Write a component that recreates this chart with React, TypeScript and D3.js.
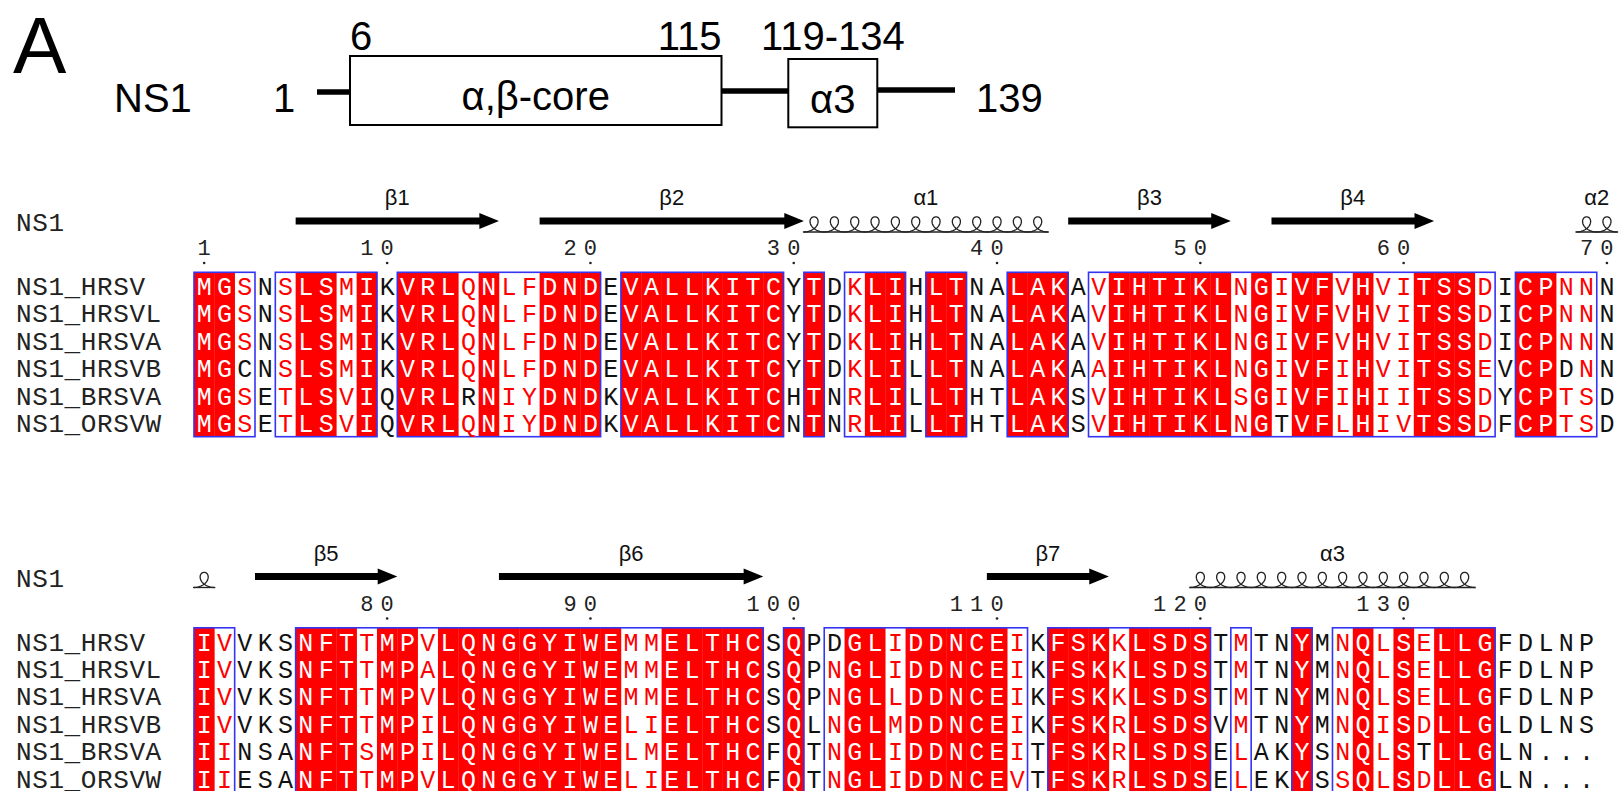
import * as d3 from "d3";

// --- top schematic -------------------------------------------------------
const domainNames = ["α,β-core", "α3"];
const domainStart = [6, 119];
const domainEnd = [115, 134];
const proteinLength = 139;
const domainTopLabels = ["6", "115", "119-134"];

// --- alignment data ------------------------------------------------------
const seqNames = ["NS1_HRSV", "NS1_HRSVL", "NS1_HRSVA", "NS1_HRSVB", "NS1_BRSVA", "NS1_ORSVW"];
const seqs = [
  "MGSNSLSMIKVRLQNLFDNDEVALLKITCYTDKLIHLTNALAKAVIHTIKLNGIVFVHVITSSDICPNNN" +
    "IVVKSNFTTMPVLQNGGYIWEMMELTHCSQPDGLIDDNCEIKFSKKLSDSTMTNYMNQLSELLGFDLNP",
  "MGSNSLSMIKVRLQNLFDNDEVALLKITCYTDKLIHLTNALAKAVIHTIKLNGIVFVHVITSSDICPNNN" +
    "IVVKSNFTTMPALQNGGYIWEMMELTHCSQPNGLIDDNCEIKFSKKLSDSTMTNYMNQLSELLGFDLNP",
  "MGSNSLSMIKVRLQNLFDNDEVALLKITCYTDKLIHLTNALAKAVIHTIKLNGIVFVHVITSSDICPNNN" +
    "IVVKSNFTTMPVLQNGGYIWEMMELTHCSQPNGLLDDNCEIKFSKKLSDSTMTNYMNQLSELLGFDLNP",
  "MGCNSLSMIKVRLQNLFDNDEVALLKITCYTDKLILLTNALAKAAIHTIKLNGIVFIHVITSSEVCPDNN" +
    "IVVKSNFTTMPILQNGGYIWELIELTHCSQLNGLMDDNCEIKFSKRLSDSVMTNYMNQISDLLGLDLNS",
  "MGSETLSVIQVRLRNIYDNDKVALLKITCHTNRLILLTHTLAKSVIHTIKLSGIVFIHIITSSDYCPTSD" +
    "IINSANFTSMPILQNGGYIWELMELTHCFQTNGLIDDNCEITFSKRLSDSELAKYSNQLSTLLGLN...",
  "MGSETLSVIQVRLQNIYDNDKVALLKITCNTNRLILLTHTLAKSVIHTIKLNGTVFLHIVTSSDFCPTSD" +
    "IIESANFTTMPVLQNGGYIWELIELTHCFQTNGLIDDNCEVTFSKRLSDSELEKYSSQLSDLLGLN...",
];

// fully conserved columns (red box) and similar columns (red letters)
const strictCols = [
  1, 2, 6, 7, 9, 11, 12, 13, 15, 18, 19, 20, 22, 23, 24, 25, 26, 27, 28, 29, 31, 34, 35, 37, 38,
  41, 42, 43, 46, 47, 48, 49, 50, 51, 53, 55, 56, 58, 61, 62, 63, 66, 67,
  71, 76, 77, 78, 80, 81, 83, 84, 85, 86, 87, 88, 89, 90, 91, 94, 95, 96, 97, 98, 100, 103, 104,
  106, 107, 108, 109, 110, 113, 114, 115, 117, 118, 119, 120, 125, 128, 130, 132, 133, 134,
];
const similarCols = [
  3, 5, 8, 14, 16, 17, 33, 45, 52, 54, 57, 59, 60, 64, 68, 69,
  72, 79, 82, 92, 93, 102, 105, 111, 116, 122, 127, 129, 131,
];
// [position, row] of residues left black inside similar columns
const blackInSimilar = [[3, 3], [14, 4], [54, 5], [68, 3], [102, 0], [131, 4]];

const blockStarts = [1, 71];
const blockLengths = [70, 69];

const rulerMarks = [1, 10, 20, 30, 40, 50, 60, 70, 80, 90, 100, 110, 120, 130];

const ssNames = ["β1", "β2", "α1", "β3", "β4", "α2", "β5", "β6", "β7", "α3"];
const ssKinds = ["E", "E", "H", "E", "E", "H", "E", "E", "E", "H"];
const ssStarts = [6, 18, 31, 44, 54, 69, 74, 86, 110, 120];
const ssEnds = [15, 30, 42, 51, 61, 71, 80, 98, 115, 133];

// --- layout ----------------------------------------------------------------
const W = 1622;
const H = 791;
const X0 = 194;
const CW = 20.33;
const RH = 27.4;
const BLOCK_TOP = [272.3, 627.8];
const MONO = "'Liberation Mono', 'Courier New', monospace";
const SANS = "'Liberation Sans', Arial, sans-serif";
const RED = "#ff0000";
const FRAME = "#3434f4";
const SCHEMA_FONT = 40;

const strictSet = new Set(strictCols);
const similarSet = new Set(similarCols);
const blackSet = new Set(blackInSimilar.map(([p, r]) => `${p}-${r}`));

// coil drawn as a looped trochoid, one loop per residue
function helixPath(xLeft: number, n: number, base: number) {
  const a = CW / (2 * Math.PI);
  const bx = 8.5;
  const by = 7.6;
  const cx = xLeft + CW / 2;
  const pts: [number, number][] = d3.range(-Math.PI, (2 * n - 1) * Math.PI + 0.001, Math.PI / 24).map((t) => [
    cx + a * t - bx * Math.sin(t),
    base - by * (1 + Math.cos(t)),
  ]);
  return d3.line()(pts) || "";
}

function Block({ b }: { b: number }) {
  const start = blockStarts[b];
  const len = blockLengths[b];
  const top = BLOCK_TOP[b];
  const off = top - BLOCK_TOP[0];
  const cols = d3.range(start, start + len);
  const x = d3.scaleBand<number>().domain(cols).range([X0, X0 + len * CW]);
  const y = d3.scaleBand<string>().domain(seqNames).range([top, top + seqNames.length * RH]);
  const bottom = top + seqNames.length * RH;

  // contiguous framed runs
  const runs: [number, number][] = [];
  cols.forEach((c) => {
    if (!strictSet.has(c) && !similarSet.has(c)) return;
    const last = runs[runs.length - 1];
    if (last && last[1] === c - 1) last[1] = c;
    else runs.push([c, c]);
  });

  const labelY = 205 + off;
  const arrowY = 221 + off;
  const helixBase = 232 + off;
  const digitY = 255 + off;
  const dotY = 263 + off;

  return (
    <g>
      <text x={16} y={231 + off} fontFamily={MONO} fontSize={26} letterSpacing={0.6} fill="#222">
        NS1
      </text>

      {ssNames.map((name, i) => {
        const s = Math.max(ssStarts[i], start);
        const e = Math.min(ssEnds[i], start + len - 1);
        if (s > e) return null;
        const xs = x(s)!;
        const xe = x(e)! + CW;
        const showLabel = ssStarts[i] >= start;
        if (ssKinds[i] === "E") {
          const hl = 19.6;
          const d = `M${xs},${arrowY - 3.6}L${xe - hl},${arrowY - 3.6}L${xe - hl},${arrowY - 8}L${xe},${arrowY}L${xe - hl},${arrowY + 8}L${xe - hl},${arrowY + 3.6}L${xs},${arrowY + 3.6}Z`;
          return (
            <g key={name}>
              <path d={d} fill="#000" />
              <text x={(xs + xe) / 2} y={labelY} textAnchor="middle" fontFamily={SANS} fontSize={22} fill="#111">
                {name}
              </text>
            </g>
          );
        }
        return (
          <g key={name}>
            <path d={helixPath(xs, e - s + 1, helixBase)} fill="none" stroke="#222" strokeWidth={1.3} />
            <line x1={xs - 1} x2={xe + 1} y1={helixBase} y2={helixBase} stroke="#222" strokeWidth={1.3} />
            {showLabel && (
              <text x={(xs + xe) / 2} y={labelY} textAnchor="middle" fontFamily={SANS} fontSize={22} fill="#111">
                {name}
              </text>
            )}
          </g>
        );
      })}

      {rulerMarks
        .filter((m) => m >= start && m < start + len)
        .map((m) => {
          const digits = String(m).split("");
          return (
            <g key={m}>
              {digits.map((ch, k) => (
                <text
                  key={k}
                  x={x(m)! + CW / 2 - (digits.length - 1 - k) * CW}
                  y={digitY}
                  textAnchor="middle"
                  fontFamily={MONO}
                  fontSize={22}
                  fill="#222"
                >
                  {ch}
                </text>
              ))}
              <circle cx={x(m)! + CW / 2} cy={dotY} r={1.3} fill="#222" />
            </g>
          );
        })}

      {cols
        .filter((c) => strictSet.has(c))
        .map((c) => (
          <rect key={c} x={x(c)!} y={top} width={CW + 0.3} height={bottom - top} fill={RED} />
        ))}

      {runs.map(([a, e]) => (
        <rect
          key={a}
          x={x(a)!}
          y={top}
          width={x(e)! + CW - x(a)!}
          height={bottom - top}
          fill="none"
          stroke={FRAME}
          strokeWidth={1.6}
        />
      ))}

      {seqNames.map((name, r) => (
        <g key={name}>
          <text x={16} y={y(name)! + RH / 2 + 9} fontFamily={MONO} fontSize={26} letterSpacing={0.6} fill="#222">
            {name}
          </text>
          {cols.map((c) => {
            const ch = seqs[r][c - 1];
            let fill = "#111";
            if (strictSet.has(c)) fill = "#fff";
            else if (similarSet.has(c) && !blackSet.has(`${c}-${r}`)) fill = RED;
            return (
              <text
                key={c}
                x={x(c)! + CW / 2}
                y={y(name)! + RH / 2 + 9}
                textAnchor="middle"
                fontFamily={MONO}
                fontSize={25}
                fill={fill}
              >
                {ch}
              </text>
            );
          })}
        </g>
      ))}
    </g>
  );
}

function Schematic() {
  const sx = d3
    .scaleLinear()
    .domain([1, domainStart[0], domainEnd[0], domainStart[1], domainEnd[1], proteinLength])
    .range([317, 350, 721.5, 788.3, 877.3, 955]);
  const boxTop = [56, 59];
  const boxBottom = [125, 127.3];
  const textY = [110, 113];
  return (
    <g>
      <text x={13} y={73} fontFamily={SANS} fontSize={80} fill="#000">
        A
      </text>
      <text x={114} y={112} fontFamily={SANS} fontSize={SCHEMA_FONT} fill="#000">
        NS1
      </text>
      <text x={284} y={112} textAnchor="middle" fontFamily={SANS} fontSize={SCHEMA_FONT} fill="#000">
        1
      </text>
      <line x1={sx(1)} x2={sx(domainStart[0])} y1={92} y2={92} stroke="#000" strokeWidth={5.5} />
      <line x1={sx(domainEnd[0])} x2={sx(domainStart[1])} y1={91} y2={91} stroke="#000" strokeWidth={5.5} />
      <line x1={sx(domainEnd[1])} x2={sx(proteinLength)} y1={90} y2={90} stroke="#000" strokeWidth={5.5} />
      {domainNames.map((name, i) => (
        <g key={name}>
          <rect
            x={sx(domainStart[i])}
            y={boxTop[i]}
            width={sx(domainEnd[i]) - sx(domainStart[i])}
            height={boxBottom[i] - boxTop[i]}
            fill="#fff"
            stroke="#000"
            strokeWidth={2}
          />
          <text
            x={(sx(domainStart[i]) + sx(domainEnd[i])) / 2}
            y={textY[i]}
            textAnchor="middle"
            fontFamily={SANS}
            fontSize={SCHEMA_FONT}
            fill="#000"
          >
            {name}
          </text>
        </g>
      ))}
      <text x={sx(domainStart[0])} y={50} fontFamily={SANS} fontSize={SCHEMA_FONT} fill="#000">
        {domainTopLabels[0]}
      </text>
      <text x={sx(domainEnd[0])} y={50} textAnchor="end" fontFamily={SANS} fontSize={SCHEMA_FONT} fill="#000">
        {domainTopLabels[1]}
      </text>
      <text
        x={(sx(domainStart[1]) + sx(domainEnd[1])) / 2}
        y={50}
        textAnchor="middle"
        fontFamily={SANS}
        fontSize={SCHEMA_FONT}
        fill="#000"
      >
        {domainTopLabels[2]}
      </text>
      <text x={976} y={112} fontFamily={SANS} fontSize={SCHEMA_FONT} fill="#000">
        {String(proteinLength)}
      </text>
    </g>
  );
}

export default function App() {
  return (
    <svg
      width={W}
      height={H}
      viewBox={`0 0 ${W} ${H}`}
      style={{ position: "absolute", left: 0, top: 0, display: "block", background: "#fff" }}
    >
      <rect width={W} height={H} fill="#fff" />
      <Schematic />
      <Block b={0} />
      <Block b={1} />
    </svg>
  );
}
